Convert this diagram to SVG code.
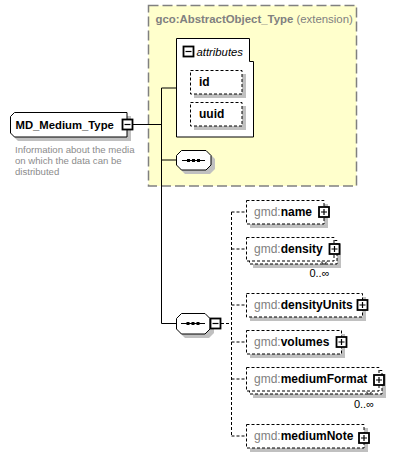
<svg xmlns="http://www.w3.org/2000/svg" width="410" height="458" viewBox="0 0 410 458">
<style>
text{font-family:"Liberation Sans",Arial,sans-serif;}
.b{font-weight:bold;fill:#000;}
.pre{fill:#808080;font-weight:normal;}
.lbl{font-size:12px;}
.shadow{fill:#c0c0c0;stroke:none;}
.el{fill:#fff;stroke:#000;stroke-width:1;stroke-dasharray:3,2;}
.solid{fill:#fff;stroke:#000;stroke-width:1;}
.pm{fill:#fff;stroke:#000;stroke-width:1.8;}
.pmg{stroke:#000;stroke-width:1.2;fill:none;}
.conn{stroke:#000;stroke-width:1;fill:none;}
.dconn{stroke:#000;stroke-width:1;fill:none;stroke-dasharray:3,2;}
.occ{font-size:11px;fill:#000;}
</style>
<defs>
<g id="plus"><rect class="pm" x="0" y="0" width="10" height="10"/><path class="pmg" d="M2,5H8M5,2V8"/></g>
<g id="minus"><rect class="pm" x="0" y="0" width="10" height="10"/><path class="pmg" d="M2,5H8"/></g>
</defs>

<g id="extension">
<rect x="148.5" y="5.5" width="208" height="180.5" fill="#ffffcc" stroke="#808080" stroke-width="1.5" stroke-dasharray="10,4"/>
<text x="155.5" y="22.5" font-size="11.4" fill="#808080"><tspan font-weight="bold">gco:AbstractObject_Type</tspan> (extension)</text>
</g>

<g id="connectors">
<path class="conn" d="M133,124.5H161.5M161.5,88V323.5M161.5,88H176M161.5,160H176M161.5,323.5H176"/>
<path class="dconn" d="M221,323.5H231.5M231.5,212V436M231.5,212H246M231.5,249H246M231.5,305H246M231.5,342H246M231.5,379H246M231.5,436H246"/>
</g>

<g id="MD_Medium_Type">
<path class="shadow" d="M18,116H131V141H18L14,137V120Z"/>
<path class="solid" d="M14.5,112.5H127V137H14.5L10.5,133V116.5Z"/>
<text class="b" x="15.5" y="128.5" font-size="11.3">MD_Medium_Type</text>
<use href="#minus" x="122.5" y="119.5"/>
<text x="15" y="152.5" font-size="9.6" fill="#8c8c8c">Information about the media</text>
<text x="15" y="163.5" font-size="9.6" fill="#8c8c8c">on which the data can be</text>
<text x="15" y="174.5" font-size="9.6" fill="#8c8c8c">distributed</text>
</g>

<g id="attributes">
<path class="solid" d="M176.5,38.5H249.5V61.5H253.5V137H176.5Z"/>
<use href="#minus" x="183.5" y="46.5"/>
<text x="196.5" y="56" font-size="11.3" font-style="italic" fill="#000">attributes</text>
</g>
<g id="attr_id">
<rect class="shadow" x="194" y="74" width="52" height="24"/>
<rect class="el" x="190.5" y="70.5" width="51.5" height="23.5"/>
<text class="b lbl" x="199" y="86">id</text>
</g>
<g id="attr_uuid">
<rect class="shadow" x="194" y="106" width="52" height="24"/>
<rect class="el" x="190.5" y="102.5" width="51.5" height="23.5"/>
<text class="b lbl" x="199" y="118">uuid</text>
</g>

<g id="sequence_ext">
<path class="shadow" d="M185,154H210L215,159V169L210,174H185L180,169V159Z"/>
<path class="solid" d="M181.5,150.5H206L211,155.5V165L206,170H181.5L176.5,165V155.5Z"/>
<path class="conn" d="M182,160.5H205"/>
<rect x="187" y="159" width="3" height="3" fill="#000"/>
<rect x="192" y="159" width="3" height="3" fill="#000"/>
<rect x="197" y="159" width="3" height="3" fill="#000"/>
</g>

<g id="sequence_main">
<path class="shadow" d="M185,317H209L214,322V333L209,338H185L180,333V322Z"/>
<path class="solid" d="M181.5,313.5H205L210,318.5V329L205,334H181.5L176.5,329V318.5Z"/>
<path class="conn" d="M181,323.5H205"/>
<rect x="186.5" y="322" width="3" height="3" fill="#000"/>
<rect x="191.5" y="322" width="3" height="3" fill="#000"/>
<rect x="196.5" y="322" width="3" height="3" fill="#000"/>
<use href="#minus" x="210.5" y="318.5"/>
</g>

<g id="name">
<rect class="shadow" x="250" y="204" width="78" height="24"/>
<rect class="el" x="246.5" y="200.5" width="77.5" height="23.5"/>
<text class="b lbl" x="254" y="216"><tspan class="pre">gmd:</tspan>name</text>
<use href="#plus" x="319" y="207"/>
</g>

<g id="density">
<rect class="shadow" x="253" y="244" width="88" height="24"/>
<rect class="el" x="249.5" y="240.5" width="87.5" height="23.5"/>
<rect class="el" x="246.5" y="237.5" width="87.5" height="23.5"/>
<path class="conn" d="M321,261.5L324,264.5L327,261.5"/>
<text class="b lbl" x="254" y="253"><tspan class="pre">gmd:</tspan>density</text>
<use href="#plus" x="329.5" y="244"/>
<text class="occ" x="329.5" y="277" text-anchor="end">0..∞</text>
</g>

<g id="densityUnits">
<rect class="shadow" x="250" y="297" width="116" height="24"/>
<rect class="el" x="246.5" y="293.5" width="116" height="23.5"/>
<text class="b lbl" x="254" y="309"><tspan class="pre">gmd:</tspan>densityUnits</text>
<use href="#plus" x="357.5" y="300"/>
</g>

<g id="volumes">
<rect class="shadow" x="250" y="334" width="95" height="24"/>
<rect class="el" x="246.5" y="330.5" width="95" height="23.5"/>
<text class="b lbl" x="254" y="346"><tspan class="pre">gmd:</tspan>volumes</text>
<use href="#plus" x="336.5" y="337"/>
</g>

<g id="mediumFormat">
<rect class="shadow" x="253" y="374" width="133" height="24"/>
<rect class="el" x="249.5" y="370.5" width="132.5" height="23.5"/>
<rect class="el" x="246.5" y="367.5" width="132.5" height="23.5"/>
<path class="conn" d="M366,391.5L369,394.5L372,391.5"/>
<text class="b lbl" x="254" y="383"><tspan class="pre">gmd:</tspan>mediumFormat</text>
<use href="#plus" x="374" y="375"/>
<text class="occ" x="374" y="408" text-anchor="end">0..∞</text>
</g>

<g id="mediumNote">
<rect class="shadow" x="250" y="428" width="118" height="24"/>
<rect class="el" x="246.5" y="424.5" width="117.5" height="23.5"/>
<text class="b lbl" x="254" y="440"><tspan class="pre">gmd:</tspan>mediumNote</text>
<use href="#plus" x="359" y="433"/>
</g>
</svg>
